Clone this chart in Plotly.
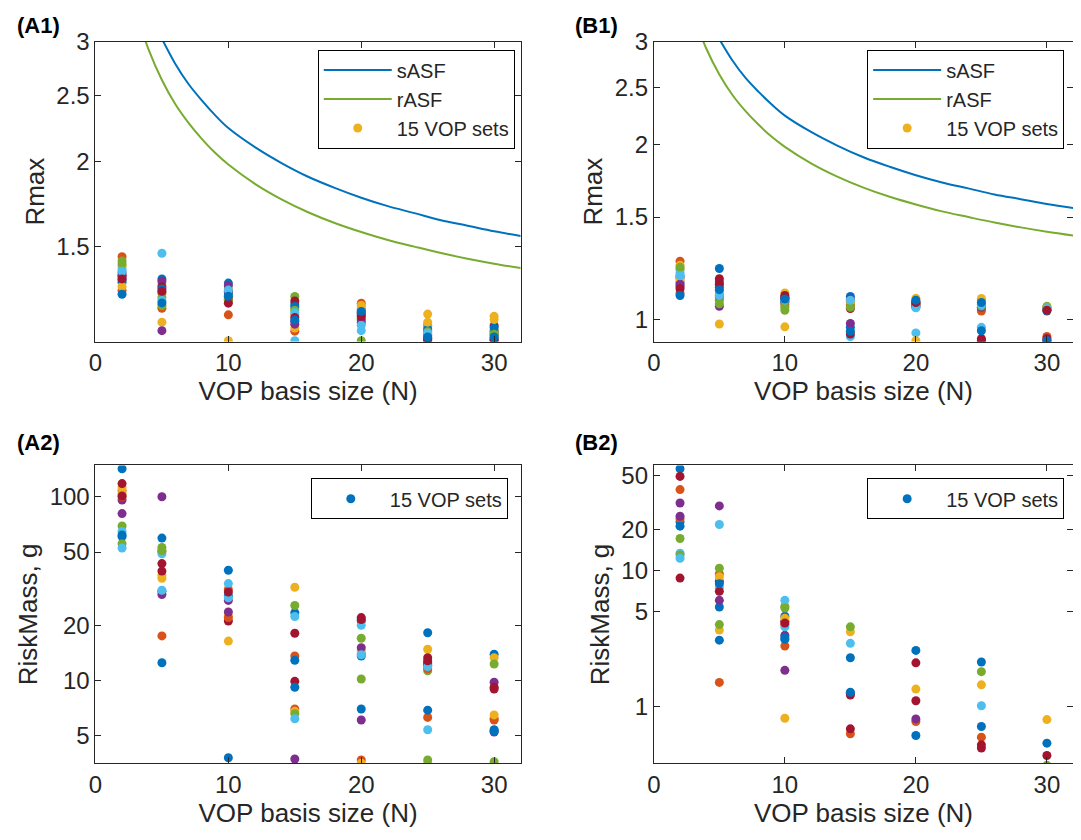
import math
import plotly.graph_objects as go

# ---------------- data ----------------
N_VALUES = [2, 5, 10, 15, 20, 25, 30]

SASF_N = [5, 6, 7, 8, 9, 10, 12, 14, 16, 18, 20, 22, 24, 26, 28, 30, 32]
SASF = [3.03, 2.785, 2.60, 2.46, 2.34, 2.24, 2.10, 1.99, 1.90, 1.83, 1.77,
        1.72, 1.68, 1.64, 1.61, 1.58, 1.555]
RASF_N = [3.5, 4, 5, 6, 7, 8, 9, 10, 12, 14, 16, 18, 20, 22, 24, 26, 28, 30, 32]
RASF = [3.12, 2.92, 2.635, 2.43, 2.28, 2.16, 2.06, 1.98, 1.855, 1.76, 1.685,
        1.625, 1.576, 1.534, 1.50, 1.468, 1.44, 1.416, 1.395]

# 15 VOP sets (rows) x 7 basis sizes (columns)
A1_RMAX = [
    [1.341, 1.345, 1.326, 1.235, 1.212, 1.114, 1.12],
    [1.450, 1.282, 1.191, 1.191, 1.239, 1.129, 1.127],
    [1.405, 1.323, 1.301, 1.218, 1.229, 1.194, 1.185],
    [1.372, 1.335, 1.315, 1.165, 1.16, 1.095, 1.10],
    [1.429, 1.263, 1.275, 1.267, 1.176, 1.15, 1.13],
    [1.391, 1.467, 1.27, 1.091, 1.129, 1.145, 1.115],
    [1.36, 1.31, 1.253, 1.248, 1.197, 1.101, 1.148],
    [1.330, 1.30, 1.282, 1.225, 1.19, 1.135, 1.14],
    [1.293, 1.218, 1.26, 1.127, 1.2, 1.11, 1.11],
    [1.311, 1.162, 1.091, 1.139, 1.22, 1.162, 1.172],
    [1.356, 1.129, 1.29, 1.154, 1.17, 1.1, 1.095],
    [1.415, 1.229, 1.25, 1.21, 1.091, 1.125, 1.115],
    [1.38, 1.25, 1.295, 1.2, 1.15, 1.12, 1.1],
    [1.345, 1.29, 1.239, 1.18, 1.185, 1.090, 1.093],
    [1.277, 1.24, 1.268, 1.17, 1.205, 1.105, 1.105],
]
B1_RMAX = [
    [1.19, 1.224, 1.095, 1.096, 1.05, 1.061, 1.035],
    [1.26, 1.104, 1.082, 1.07, 1.075, 1.042, 0.936],
    [1.24, 1.089, 1.111, 1.064, 1.088, 1.087, 1.045],
    [1.18, 1.161, 1.07, 1.085, 1.06, 0.922, 0.917],
    [1.22, 1.08, 1.038, 1.06, 1.065, 1.05, 1.054],
    [1.205, 1.12, 1.09, 0.935, 0.949, 0.970, 1.04],
    [1.14, 1.176, 1.10, 1.045, 1.065, 0.928, 0.928],
    [1.16, 1.137, 1.075, 0.97, 1.055, 0.957, 1.04],
    [1.11, 1.095, 1.060, 1.055, 1.06, 1.035, 1.042],
    [1.17, 0.983, 0.972, 1.075, 0.92, 1.08, 1.05],
    [1.15, 1.054, 1.088, 0.985, 1.07, 1.05, 0.922],
    [1.23, 1.065, 1.05, 1.05, 1.07, 1.055, 1.048],
    [1.19, 1.10, 1.08, 1.08, 1.048, 1.06, 1.045],
    [1.13, 1.15, 1.09, 0.945, 1.07, 0.918, 1.038],
    [1.10, 1.126, 1.085, 0.955, 1.08, 1.07, 0.92],
]
A2_RISKMASS = [
    [142, 59.6, 39.8, 23.4, 21.1, 18.2, 13.9],
    [108, 50.4, 31.3, 13.6, 14.0, 6.3, 6.1],
    [112, 37.3, 22.5, 32.2, 14.5, 14.8, 13.3],
    [96, 100, 27.3, 3.74, 15.1, 12.3, 9.8],
    [69.4, 53.0, 3.0, 25.6, 17.0, 11.3, 12.3],
    [64.7, 49, 33.7, 22.3, 20.0, 5.4, 5.35],
    [118, 43.3, 21.1, 18.1, 22.0, 13.3, 9.2],
    [60.8, 30.6, 29.0, 12.9, 13.6, 12.1, 5.4],
    [100, 17.5, 22.0, 7.0, 3.70, 11.6, 6.2],
    [104, 36, 16.4, 6.8, 3.55, 3.55, 6.5],
    [81, 29.4, 23.6, 3.0, 6.1, 12.5, 5.25],
    [55.5, 51, 3.1, 6.6, 10.2, 3.70, 3.62],
    [52.6, 31, 28.2, 6.2, 13.8, 11.9, 3.0],
    [101, 39.4, 30.3, 9.9, 21.5, 12.8, 9.0],
    [62, 12.5, 3.80, 9.2, 7.0, 6.9, 5.3],
]
B2_RISKMASS = [
    [56.1, 5.39, 4.61, 2.28, 2.58, 2.12, 0.536],
    [39.4, 9.45, 4.0, 0.628, 0.772, 0.593, 0.31],
    [70, 3.64, 0.817, 3.54, 1.34, 1.44, 0.799],
    [31.4, 29.9, 3.33, 1.25, 0.808, 0.29, 0.27],
    [17.2, 10.4, 5.45, 3.85, 0.32, 1.80, 0.368],
    [13.4, 21.8, 6.03, 2.91, 0.30, 1.01, 0.29],
    [49.3, 8.31, 4.23, 1.21, 2.09, 0.521, 0.435],
    [22.8, 3.07, 3.20, 1.27, 0.61, 0.710, 0.30],
    [24, 1.50, 2.78, 0.30, 0.28, 0.31, 0.28],
    [65, 9.0, 4.45, 0.31, 0.29, 0.30, 0.27],
    [25.1, 6.03, 1.84, 0.29, 0.30, 0.28, 0.31],
    [13.0, 4.0, 5.3, 0.30, 0.31, 0.29, 0.30],
    [12.3, 7.5, 3.85, 0.28, 0.27, 0.30, 0.28],
    [8.79, 7.02, 4.1, 0.683, 1.10, 0.493, 0.29],
    [21.2, 8.0, 3.11, 0.30, 0.29, 0.30, 0.31],
]

X_TICKS = [0, 10, 20, 30]
A1_YTICKS = [1.5, 2, 2.5, 3]
B1_YTICKS = [1, 1.5, 2, 2.5, 3]
A2_YTICKS = [5, 10, 20, 50, 100]
B2_YTICKS = [1, 5, 10, 20, 50]

COLORS = ["#0072BD", "#D95319", "#EDB120", "#7E2F8E",
          "#77AC30", "#4DBEEE", "#A2142F"]

# ---------------- figure ----------------
W, H = 1081, 840
OFF = 8  # compensate the page's body margin
FONT = "Liberation Sans, Arial, Helvetica, sans-serif"
TXT = "#262626"


def px(x):
    return (x - OFF) / W


def py(y):
    return 1 - (y - OFF) / H


fig = go.Figure()

panels = [
    ("", A1_RMAX, "legend", 2, (89, 517), (28, 333), (1.088, 3.0), A1_YTICKS, "Rmax", True),
    ("2", B1_RMAX, "legend2", 2, (651, 1073), (28, 333), (0.917, 3.0), B1_YTICKS, "Rmax", True),
    ("3", A2_RISKMASS, "legend3", 0, (89, 517), (459, 762), (3.54, 148), A2_YTICKS, "RiskMass, g", False),
    ("4", B2_RISKMASS, "legend4", 0, (651, 1073), (459, 762), (0.38, 59.3), B2_YTICKS, "RiskMass, g", False),
]

for key, data, leg, legrow, xd, yd, yr, yt, ytitle, curves in panels:
    xa = "x" + key
    ya = "y" + key
    if curves:
        fig.add_trace(go.Scatter(x=SASF_N, y=SASF, mode="lines", name="sASF",
                                 line=dict(color="#0072BD", width=2, shape="spline"),
                                 xaxis=xa, yaxis=ya, legend=leg))
        fig.add_trace(go.Scatter(x=RASF_N, y=RASF, mode="lines", name="rASF",
                                 line=dict(color="#77AC30", width=2, shape="spline"),
                                 xaxis=xa, yaxis=ya, legend=leg))
    for i, row in enumerate(data):
        fig.add_trace(go.Scatter(x=N_VALUES, y=row, mode="markers",
                                 name="15 VOP sets",
                                 marker=dict(color=COLORS[i % 7], size=9),
                                 showlegend=(i == legrow),
                                 cliponaxis=True,
                                 xaxis=xa, yaxis=ya, legend=leg))

    axis_common = dict(showline=True, linecolor=TXT, linewidth=1, mirror="ticks",
                       ticks="inside", ticklen=6, tickcolor=TXT, showgrid=False,
                       zeroline=False, tickfont=dict(family=FONT, size=24, color=TXT))
    fig.update_layout(**{
        "xaxis" + key: dict(axis_common, domain=[px(xd[0]), px(xd[1])], range=[0, 32],
                            tickvals=X_TICKS, anchor=ya,
                            title=dict(text="VOP basis size (N)", standoff=6,
                                       font=dict(family=FONT, size=26, color=TXT))),
        "yaxis" + key: dict(axis_common, domain=[py(yd[1]), py(yd[0])], type="log",
                            range=[math.log10(yr[0]), math.log10(yr[1])],
                            tickvals=yt, ticktext=[str(v) for v in yt], anchor=xa,
                            title=dict(text=ytitle, standoff=4,
                                       font=dict(family=FONT, size=26, color=TXT))),
    })

leg_common = dict(bgcolor="white", bordercolor="black", borderwidth=1,
                  font=dict(family=FONT, size=20, color=TXT),
                  xanchor="right", yanchor="top", tracegroupgap=0,
                  itemwidth=68)
fig.update_layout(
    legend=dict(leg_common, x=px(511), y=py(36)),
    legend2=dict(leg_common, x=px(1064), y=py(36)),
    legend3=dict(leg_common, x=px(504), y=py(472)),
    legend4=dict(leg_common, x=px(1064), y=py(472)),
)

labels = [("(A1)", 0, 12), ("(B1)", 570, 12), ("(A2)", 0, 436), ("(B2)", 570, 436)]
for txt, lx, ly in labels:
    fig.add_annotation(text="<b>%s</b>" % txt, xref="paper", yref="paper",
                       x=max(px(lx), 0), y=py(ly), xanchor="left", yanchor="middle",
                       showarrow=False, font=dict(family=FONT, size=22, color="black"))

fig.update_layout(width=W, height=H, margin=dict(l=0, r=0, t=0, b=0),
                  paper_bgcolor="white", plot_bgcolor="white",
                  font=dict(family=FONT, color=TXT))

fig.write_html("out.html")
